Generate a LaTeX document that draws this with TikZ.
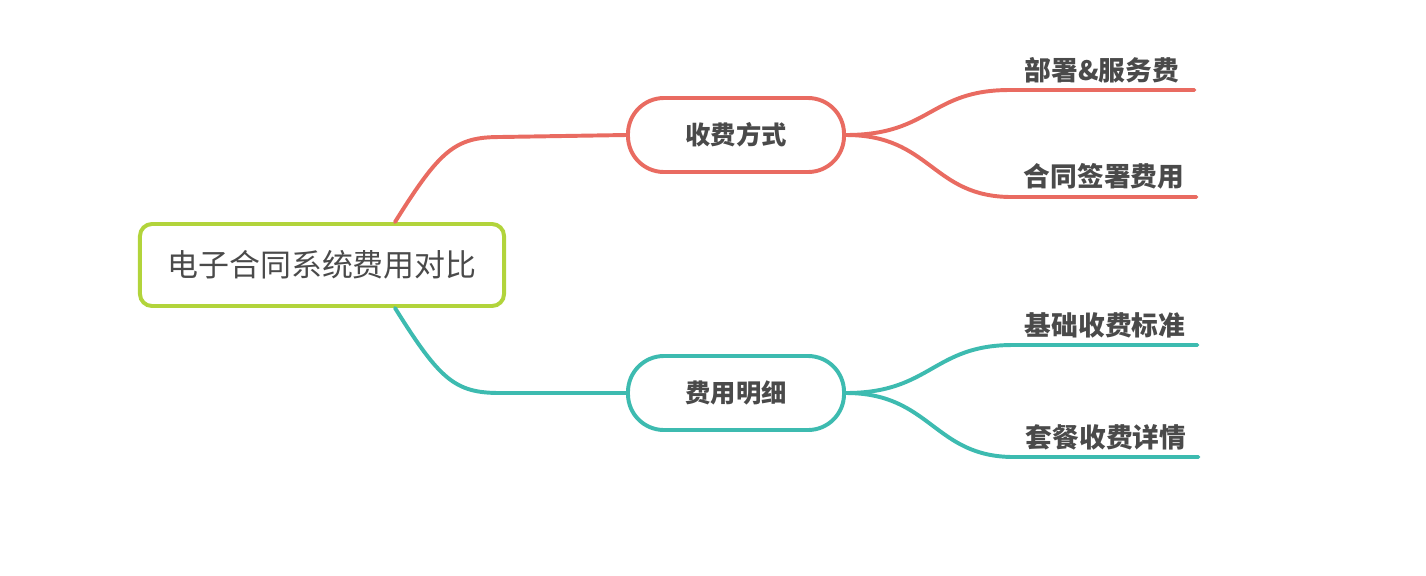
\documentclass[tikz,border=0pt]{standalone}
\usepackage{fontspec}
\setmainfont{Noto Sans CJK SC}
\usetikzlibrary{calc}
\definecolor{rootgreen}{HTML}{B2D43B}
\definecolor{feered}{HTML}{E96B61}
\definecolor{feeteal}{HTML}{3DBBB0}
\definecolor{inkgray}{HTML}{4A4A4A}

\begin{document}
\begin{tikzpicture}[
  x=0.025cm, y=-0.025cm,
  rootbox/.style={draw=rootgreen, line width=2.8pt, rounded corners=0.3cm,
    minimum width=9.1cm, minimum height=2.05cm, fill=white,
    text=inkgray, font=\fontsize{22}{26}\selectfont},
  branchbox/.style={line width=2.8pt, rounded corners=0.9cm,
    minimum width=5.4cm, minimum height=1.85cm, fill=white,
    text=inkgray, font=\fontsize{18}{22}\selectfont\bfseries},
  leaf/.style={anchor=south, minimum width=4.6cm, inner ysep=5pt,
    text=inkgray, font=\fontsize{19}{23}\selectfont\bfseries},
  link/.style={line width=2.8pt, line cap=round}
]
\useasboundingbox (0,0) rectangle (1426,575);

\node[rootbox] (root) at (322,265) {电子合同系统费用对比};

\node[branchbox, draw=feered] (fee) at (736,135) {收费方式};
\node[branchbox, draw=feeteal] (detail) at (736,393) {费用明细};

\node[leaf] (deploy) at (1102,90) {部署\&服务费};
\node[leaf] (sign) at (1104,197) {合同签署费用};
\node[leaf] (base) at (1105,345) {基础收费标准};
\node[leaf] (pack) at (1106,457) {套餐收费详情};

% root to branches
\draw[link, feered] ($(root.north)+(73,0)$) .. controls (440,150) and (455,137) .. (500,137) -- (fee.west);
\draw[link, feeteal] ($(root.south)+(73,0)$) .. controls (440,380) and (455,393) .. (500,393) -- (detail.west);

% branches to leaves
\foreach \b/\l/\c in {fee/deploy/feered, fee/sign/feered, detail/base/feeteal, detail/pack/feeteal}{
  \draw[link, \c] (\b.east) .. controls ($(\b.east)+(85,0)$) and ($(\l.south west)+(-80,0)$) .. (\l.south west) -- (\l.south east);
}

\end{tikzpicture}
\end{document}
